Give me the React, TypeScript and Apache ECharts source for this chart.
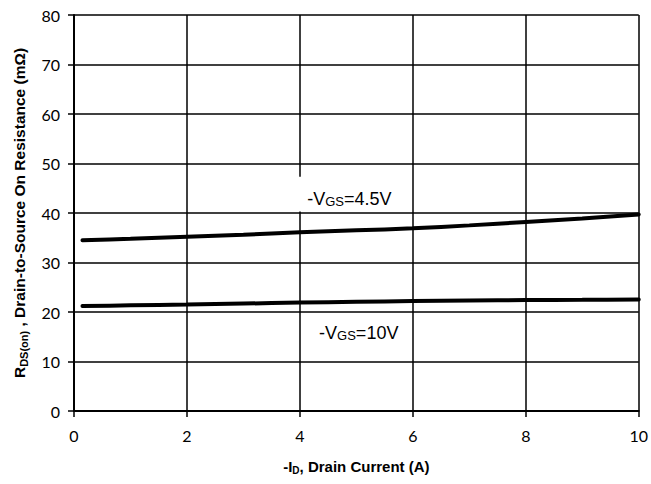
import React, { useEffect, useRef } from "react";
import * as echarts from "echarts";

const drainCurrent = [0.15, 1, 2, 3, 4, 5, 6, 7, 8, 9, 10];
const rdsVgs45 = [34.5, 34.8, 35.2, 35.6, 36.1, 36.5, 36.9, 37.5, 38.2, 38.9, 39.7];
const rdsVgs10 = [21.2, 21.35, 21.5, 21.7, 21.9, 22.05, 22.2, 22.3, 22.4, 22.45, 22.55];

const xTicks = { min: 0, max: 10, interval: 2 };
const yTicks = { min: 0, max: 80, interval: 10 };

const labelFont = "Lato, 'Open Sans', sans-serif";
const titleFont = "'Liberation Sans Narrow', 'Arial Narrow', 'Liberation Sans', Arial, sans-serif";
const annFont = "'Liberation Sans', Arial, sans-serif";

export default function App() {
  const ref = useRef<HTMLDivElement>(null);
  useEffect(() => {
    if (!ref.current) return;
    const chart = echarts.init(ref.current, null, { renderer: "svg" });
    const gridLine = { show: true, lineStyle: { color: "#000", width: 1.5 } };
    const option: any = {
      animation: false,
      backgroundColor: "#fff",
      grid: { left: 74, right: 10, top: 15, bottom: 73, containLabel: false },
      xAxis: {
        type: "value",
        ...xTicks,
        name: "{b|-I}{s|D}{b|, Drain Current (A)}",
        nameLocation: "middle",
        nameGap: 46,
        nameTextStyle: {
          rich: {
            b: { fontFamily: titleFont, fontWeight: "bold", fontSize: 15, color: "#000", lineHeight: 18 },
            s: { fontFamily: titleFont, fontWeight: "bold", fontSize: 10, color: "#000", lineHeight: 8, verticalAlign: "bottom" },
          },
        },
        axisLine: { show: true, onZero: false, lineStyle: { color: "#000", width: 2 } },
        axisTick: { show: true, inside: false, length: 6, lineStyle: { color: "#000", width: 1.5 } },
        axisLabel: { color: "#000", fontFamily: labelFont, fontSize: 16, margin: 16 },
        splitLine: gridLine,
      },
      yAxis: {
        type: "value",
        ...yTicks,
        name: "{b|R}{s|DS(on)}{b| , Drain-to-Source On Resistance (mΩ)}",
        nameLocation: "middle",
        nameGap: 45,
        nameTextStyle: {
          rich: {
            b: { fontFamily: annFont, fontWeight: "bold", fontSize: 15.5, color: "#000", lineHeight: 19 },
            s: { fontFamily: annFont, fontWeight: "bold", fontSize: 11, color: "#000", lineHeight: 9, verticalAlign: "bottom" },
          },
        },
        axisLine: { show: true, onZero: false, lineStyle: { color: "#000", width: 2 } },
        axisTick: { show: true, inside: false, length: 6, lineStyle: { color: "#000", width: 1.5 } },
        axisLabel: { color: "#000", fontFamily: labelFont, fontSize: 16, margin: 14 },
        splitLine: gridLine,
      },
      series: [
        {
          type: "line",
          name: "-VGS=4.5V",
          data: drainCurrent.map((x, i) => [x, rdsVgs45[i]]),
          smooth: 0.3,
          showSymbol: false,
          lineStyle: { color: "#000", width: 4, cap: "round" },
          z: 5,
        },
        {
          type: "line",
          name: "-VGS=10V",
          data: drainCurrent.map((x, i) => [x, rdsVgs10[i]]),
          smooth: 0.3,
          showSymbol: false,
          lineStyle: { color: "#000", width: 4, cap: "round" },
          z: 5,
        },
      ],
    };
    chart.setOption(option);

    const px = (x: number, y: number) => chart.convertToPixel({ gridIndex: 0 }, [x, y]) as number[];
    const boxTL = px(3.95, 47.3);
    const boxBR = px(5.9, 40.3);
    const t1 = px(4.13, 43.0);
    const t2 = px(4.34, 16.0);
    const annRich = {
      r: { fontFamily: annFont, fontSize: 18, fill: "#000", lineHeight: 20, verticalAlign: "bottom" },
      g: { fontFamily: annFont, fontSize: 13, fill: "#000", lineHeight: 17, verticalAlign: "bottom" },
    };
    chart.setOption({
      graphic: [
        {
          type: "rect",
          shape: { x: boxTL[0], y: boxTL[1], width: boxBR[0] - boxTL[0], height: boxBR[1] - boxTL[1] },
          style: { fill: "#fff" },
          z: 10,
        },
        {
          type: "text",
          x: t1[0],
          y: t1[1],
          z: 11,
          style: { text: "{r|-V}{g|GS}{r|=4.5V}", rich: annRich, align: "left", verticalAlign: "middle" },
        },
        {
          type: "text",
          x: t2[0],
          y: t2[1],
          z: 11,
          style: { text: "{r|-V}{g|GS}{r|=10V}", rich: annRich, align: "left", verticalAlign: "middle" },
        },
      ],
    });
    return () => chart.dispose();
  }, []);
  return <div ref={ref} style={{ position: "absolute", left: 0, top: 0, width: 651, height: 484 }} />;
}
